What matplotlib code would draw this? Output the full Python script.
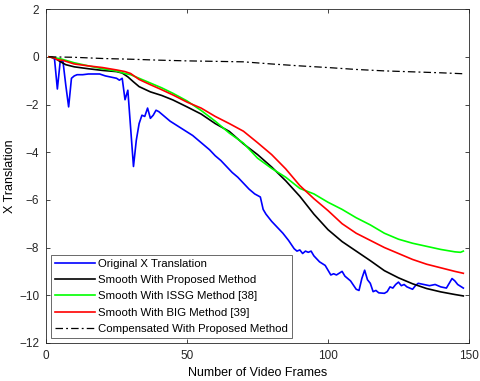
import numpy as np
import matplotlib
matplotlib.use("Agg")
import matplotlib.pyplot as plt

# original x translation (frame, value)
orig_x = [1, 2, 3, 4, 5, 6, 7, 8, 9, 10, 11, 13, 15, 17, 19, 21, 23, 25, 26, 27,
          28, 29, 30, 31, 32, 33, 34, 35, 36, 37, 38, 39, 40, 42, 44, 46, 48, 50,
          52, 54, 56, 58, 60, 62, 64, 66, 68, 70, 72, 74, 76, 77, 78, 80, 82, 84,
          86, 88, 89, 90, 91, 92, 93, 94, 95, 97, 99, 101, 102, 103, 105, 106, 107,
          108, 110, 111, 112, 113, 114, 115, 116, 117, 118, 120, 121, 122, 123, 124,
          125, 126, 127, 128, 130, 131, 132, 134, 136, 138, 140, 142, 143, 144, 145,
          146, 148]
orig_y = [0, 0, -0.1, -1.35, -0.2, -0.2, -1.2, -2.1, -0.9, -0.8, -0.75, -0.75, -0.72,
          -0.72, -0.72, -0.8, -0.85, -0.9, -0.98, -0.9, -1.8, -1.4, -3.0, -4.6, -3.5,
          -2.8, -2.45, -2.5, -2.15, -2.58, -2.45, -2.24, -2.3, -2.5, -2.7, -2.85, -3.0,
          -3.15, -3.3, -3.5, -3.7, -3.9, -4.15, -4.35, -4.6, -4.85, -5.05, -5.3, -5.55,
          -5.75, -5.88, -6.4, -6.6, -6.9, -7.15, -7.4, -7.7, -8.05, -8.15, -8.1, -8.25,
          -8.15, -8.2, -8.15, -8.35, -8.6, -8.75, -9.15, -9.1, -9.15, -9.0, -9.2, -9.3,
          -9.4, -9.75, -9.8, -9.3, -8.95, -9.35, -9.5, -9.85, -9.8, -9.9, -9.92, -9.85,
          -9.65, -9.7, -9.55, -9.45, -9.6, -9.55, -9.65, -9.75, -9.6, -9.5, -9.55, -9.6,
          -9.55, -9.65, -9.7, -9.5, -9.3, -9.4, -9.55, -9.7]

prop_x = [1, 3, 5, 7, 10, 15, 20, 25, 27, 29, 31, 33, 37, 41, 45, 50, 55, 60, 65, 70,
          75, 80, 85, 90, 95, 100, 105, 110, 115, 120, 125, 130, 135, 140, 145, 148]
prop_y = [0, -0.05, -0.2, -0.33, -0.42, -0.5, -0.57, -0.62, -0.68, -0.84, -1.05,
          -1.25, -1.47, -1.62, -1.81, -2.1, -2.4, -2.8, -3.13, -3.65, -4.1, -4.62,
          -5.2, -5.85, -6.6, -7.25, -7.75, -8.15, -8.55, -8.97, -9.27, -9.52, -9.72,
          -9.86, -9.97, -10.03]

issg_x = [1, 5, 10, 15, 20, 25, 28, 30, 33, 37, 41, 45, 50, 55, 60, 65, 70, 75, 80,
          85, 90, 95, 100, 105, 110, 115, 120, 125, 130, 135, 140, 145, 147, 148]
issg_y = [0, -0.08, -0.25, -0.38, -0.5, -0.6, -0.7, -0.75, -0.9, -1.1, -1.3, -1.53,
          -1.85, -2.25, -2.7, -3.2, -3.62, -4.25, -4.68, -5.05, -5.52, -5.75, -6.1,
          -6.4, -6.75, -7.05, -7.4, -7.65, -7.82, -7.95, -8.08, -8.18, -8.2, -8.15]

big_x = [1, 3, 4, 6, 10, 15, 20, 25, 28, 30, 33, 37, 41, 45, 50, 55, 60, 65, 70, 75,
         80, 85, 90, 95, 100, 105, 110, 115, 120, 125, 130, 135, 140, 145, 148]
big_y = [0, -0.05, -0.12, -0.15, -0.3, -0.38, -0.45, -0.55, -0.62, -0.7, -0.95, -1.17,
         -1.38, -1.6, -1.9, -2.15, -2.5, -2.8, -3.12, -3.6, -4.1, -4.7, -5.4, -5.95,
         -6.45, -7.0, -7.4, -7.7, -8.0, -8.25, -8.5, -8.7, -8.85, -9.0, -9.08]

comp_x = [1, 10, 20, 30, 40, 50, 60, 70, 80, 90, 100, 110, 120, 130, 140, 148]
comp_y = [0, -0.02, -0.07, -0.1, -0.14, -0.17, -0.19, -0.21, -0.3, -0.38, -0.45,
          -0.53, -0.59, -0.63, -0.67, -0.71]

plt.rcParams['font.family'] = ['Liberation Sans', 'DejaVu Sans']

fig = plt.figure(figsize=(4.8, 3.81), dpi=100)
ax = fig.add_axes([0.096, 0.100, 0.881, 0.876])

lw = 1.2
ax.plot(orig_x, orig_y, color='#0000ff', lw=lw, label='Original X Translation')
ax.plot(prop_x, prop_y, color='black', lw=lw, label='Smooth With Proposed Method')
ax.plot(issg_x, issg_y, color='#00ff00', lw=lw, label='Smooth With ISSG Method [38]')
ax.plot(big_x, big_y, color='#ff0000', lw=lw, label='Smooth With BIG Method [39]')
ax.plot(comp_x, comp_y, color='black', lw=0.9, linestyle=(0, (6, 2.5, 1.5, 2.5)),
        label='Compensated With Proposed Method')

ax.set_xlim(0, 150)
ax.set_ylim(-12, 2)
ax.set_xticks([0, 50, 100, 150])
ax.set_yticks(np.arange(-12, 3, 2))
ax.tick_params(direction='in', top=True, right=True, labelsize=8.5, length=3,
               width=0.6, colors='#262626', pad=5)
for s in ax.spines.values():
    s.set_color('#262626')
    s.set_linewidth(0.6)

ax.set_xlabel('Number of Video Frames', fontsize=9, labelpad=4)
ax.set_ylabel('X Translation', fontsize=9, labelpad=2)

leg = ax.legend(loc='lower left', fontsize=8.2, frameon=True, fancybox=False,
                edgecolor='#262626', handlelength=3.5, handletextpad=0.3,
                labelspacing=0.55, borderpad=0.35, borderaxespad=0.45)
leg.get_frame().set_linewidth(0.6)

fig.savefig('out.png', dpi=100)
